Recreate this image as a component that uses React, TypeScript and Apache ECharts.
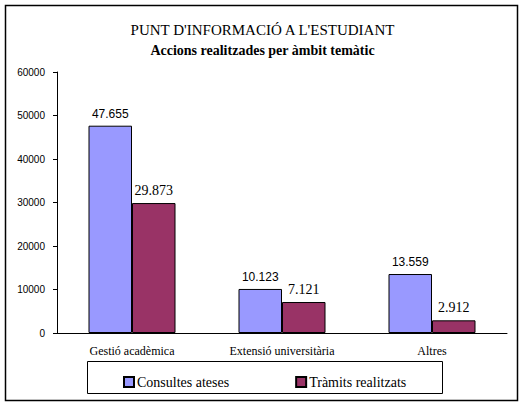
import React, { useEffect, useRef } from 'react';
import * as echarts from 'echarts';

const categories = ['Gestió acadèmica', 'Extensió universitària', 'Altres'];
const consultes = [47655, 10123, 13559];
const tramits = [29873, 7121, 2912];
const seriesNames = ['Consultes ateses', 'Tràmits realitzats'];

const fmt = (v: number) => String(v).replace(/(\d)(?=(\d{3})+$)/, '$1.');

const App: React.FC = () => {
  const chartRef = useRef<HTMLDivElement>(null);

  useEffect(() => {
    if (!chartRef.current) return;
    const chart = echarts.init(chartRef.current, undefined, { renderer: 'svg' });
    const serif = "'Liberation Serif', 'Times New Roman', serif";
    const sans = "'Liberation Sans', Arial, sans-serif";
    chart.setOption({
      animation: false,
      backgroundColor: '#fff',
      textStyle: { fontFamily: serif },
      title: {
        text: "PUNT D'INFORMACIÓ A L'ESTUDIANT",
        subtext: 'Accions realitzades per àmbit temàtic',
        left: 'center',
        top: 17,
        itemGap: 6,
        textStyle: { fontFamily: serif, fontSize: 15, fontWeight: 'normal', color: '#000' },
        subtextStyle: { fontFamily: serif, fontSize: 14, fontWeight: 'bold', color: '#000' },
      },
      graphic: [
        {
          type: 'rect',
          shape: { x: 5.5, y: 5.5, width: 512, height: 395 },
          style: { fill: 'none', stroke: '#000', lineWidth: 1.5 },
          z: 100,
        },
        {
          type: 'rect',
          shape: { x: 87.5, y: 361.5, width: 355, height: 32 },
          style: { fill: 'none', stroke: '#000', lineWidth: 1 },
          z: 100,
        },
      ],
      legend: {
        data: seriesNames,
        left: 118,
        top: 370,
        itemWidth: 10,
        itemHeight: 10,
        itemGap: 66,
        icon: 'rect',
        textStyle: { fontFamily: serif, fontSize: 14, color: '#000', padding: [0, 0, 0, -2] },
      },
      grid: { left: 57, right: 18, top: 72, bottom: 74 },
      xAxis: {
        type: 'category',
        data: categories,
        axisLine: { lineStyle: { color: '#000', width: 1 } },
        axisTick: { length: 4, lineStyle: { color: '#000' } },
        axisLabel: { fontFamily: serif, fontSize: 12, color: '#000', margin: 12 },
      },
      yAxis: {
        type: 'value',
        min: 0,
        max: 60000,
        interval: 10000,
        splitLine: { show: false },
        axisLine: { show: true, lineStyle: { color: '#000', width: 1 } },
        axisTick: { show: true, length: 4, lineStyle: { color: '#000' } },
        axisLabel: {
          fontFamily: sans,
          fontSize: 10,
          color: '#000',
          margin: 12,
          formatter: (v: number) => String(v),
        },
      },
      series: [
        {
          name: seriesNames[0],
          type: 'bar',
          data: consultes,
          barWidth: 43.5,
          barGap: '0%',
          itemStyle: { color: '#9999FF', borderColor: '#000', borderWidth: 1 },
          label: {
            show: true,
            position: 'top',
            distance: 6,
            formatter: (p: any) => fmt(p.value),
            fontFamily: "'Liberation Sans Narrow', 'Liberation Sans', sans-serif",
            fontSize: 12,
            color: '#000',
          },
        },
        {
          name: seriesNames[1],
          type: 'bar',
          data: tramits,
          barWidth: 43.5,
          barGap: '0%',
          itemStyle: { color: '#993366', borderColor: '#000', borderWidth: 1 },
          label: {
            show: true,
            position: 'top',
            distance: 6,
            formatter: (p: any) => fmt(p.value),
            fontFamily: serif,
            fontSize: 14,
            color: '#000',
          },
        },
      ],
    });
    return () => chart.dispose();
  }, []);

  return (
    <div
      ref={chartRef}
      style={{ position: 'fixed', left: 0, top: 0, width: 525, height: 407 }}
    />
  );
};

export default App;
